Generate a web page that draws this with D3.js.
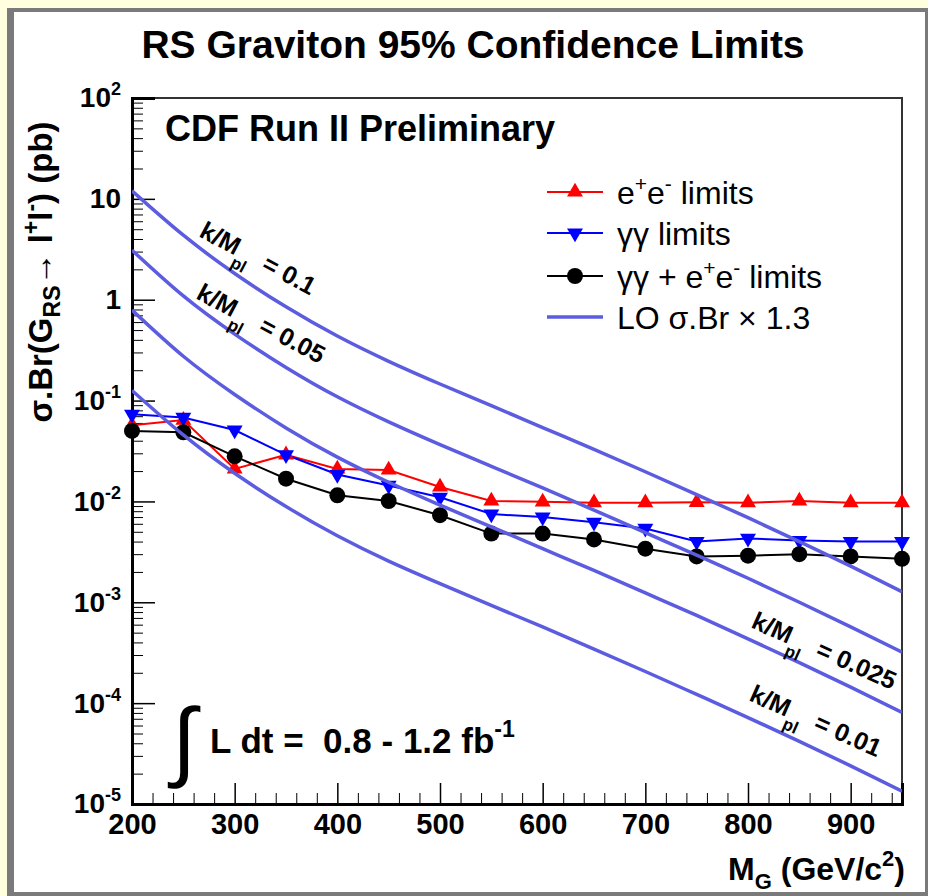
<!DOCTYPE html>
<html>
<head>
<meta charset="utf-8">
<script src="https://cdn.jsdelivr.net/npm/d3@7"></script>
<style>
  body { margin: 0; background: #ffffe0; }
  text { font-family: "Liberation Sans", Arial, sans-serif; }
</style>
</head>
<body>
<script>
// graviton masses (GeV/c^2)
const masses = [200, 250, 300, 350, 400, 450, 500, 550, 600, 650, 700, 750, 800, 850, 900, 950];

// 95% CL limits (pb)
const eeLimits   = [0.057, 0.064, 0.021, 0.029, 0.021, 0.0205, 0.0139, 0.0101, 0.0099, 0.0097, 0.0097, 0.0098, 0.0097, 0.0101, 0.0097, 0.0097];
const ggLimits   = [0.073, 0.068, 0.051, 0.029, 0.0185, 0.0144, 0.011, 0.0075, 0.0070, 0.0062, 0.0054, 0.0040, 0.0043, 0.0041, 0.0040, 0.0040];
const combLimits = [0.050, 0.0485, 0.028, 0.0168, 0.0115, 0.0101, 0.0073, 0.0048, 0.0048, 0.0042, 0.0034, 0.00285, 0.0029, 0.0030, 0.00285, 0.0027];

// LO sigma.Br x 1.3 curves, one per k/M_pl
const lo010  = [12.0, 4.36, 1.82, 0.85, 0.436, 0.245, 0.146, 0.089, 0.054, 0.0328, 0.0197, 0.0117, 0.0069, 0.0040, 0.00228, 0.00127];
const lo005  = [3.1, 1.09, 0.456, 0.213, 0.109, 0.0615, 0.0366, 0.0223, 0.0136, 0.0082, 0.0049, 0.00294, 0.00173, 0.0010, 0.00057, 0.00032];
const lo0025 = [0.79, 0.275, 0.115, 0.0536, 0.0275, 0.0155, 0.0092, 0.0056, 0.0034, 0.00207, 0.00124, 0.00074, 0.000434, 0.000252, 0.000144, 0.000081];
const lo001  = [0.126, 0.0456, 0.019, 0.0089, 0.00456, 0.00256, 0.00153, 0.00093, 0.00057, 0.000344, 0.000206, 0.000122, 0.000072, 0.0000418, 0.0000239, 0.0000134];

// axis ticks
const xMajorTicks = [200, 300, 400, 500, 600, 700, 800, 900];
const yDecades = [-5, -4, -3, -2, -1, 0, 1, 2];

const W = 928, H = 896;
const svg = d3.select("body").append("svg")
  .attr("width", W).attr("height", H);

// canvas background and border
svg.append("rect").attr("width", W).attr("height", H).attr("fill", "#ffffe0");
svg.append("rect").attr("x", 7).attr("y", 8).attr("width", W - 7).attr("height", H - 8).attr("fill", "#7a7a7a");
svg.append("rect").attr("x", 14).attr("y", 12).attr("width", 911).attr("height", 880).attr("fill", "#fff");

const x = d3.scaleLinear().domain([200, 950]).range([132, 902]);
const y = d3.scaleLog().domain([1e-5, 1e2]).range([804, 98]);

// title
svg.append("text")
  .attr("x", 473).attr("y", 58)
  .attr("text-anchor", "middle")
  .attr("font-size", 39).attr("font-weight", "bold")
  .text("RS Graviton 95% Confidence Limits");

// frame (top and right)
svg.append("path")
  .attr("d", `M${x(200)},${y(1e2)}H${x(950)}V${y(1e-5)}`)
  .attr("fill", "none").attr("stroke", "#333").attr("stroke-width", 2);

// x axis: minor and major ticks, drawn inward
const minorX = d3.range(200, 951, 20).filter(v => v % 100 !== 0);
svg.append("g")
  .attr("transform", `translate(0,${y(1e-5)})`)
  .call(d3.axisBottom(x).tickValues(minorX).tickSize(-11).tickFormat(""))
  .call(g => g.select(".domain").remove());

const xAxis = svg.append("g")
  .attr("transform", `translate(0,${y(1e-5)})`)
  .call(d3.axisBottom(x).tickValues(xMajorTicks).tickSize(-21).tickPadding(9).tickFormat(d3.format("d")));
xAxis.select(".domain").attr("stroke-width", 3);
xAxis.selectAll("text").attr("font-size", 29).attr("font-weight", "bold")
  .attr("font-family", "Liberation Sans, Arial, sans-serif").attr("fill", "#000");

// y axis: log minor ticks and decade ticks
const minorY = [];
yDecades.slice(0, -1).forEach(e => {
  for (let m = 2; m <= 9; m++) minorY.push(m * Math.pow(10, e));
});
svg.append("g")
  .attr("transform", `translate(${x(200)},0)`)
  .call(d3.axisLeft(y).tickValues(minorY).tickSize(-11).tickFormat(""))
  .call(g => g.select(".domain").remove());

const yAxis = svg.append("g")
  .attr("transform", `translate(${x(200)},0)`)
  .call(d3.axisLeft(y).tickValues(yDecades.map(e => Math.pow(10, e))).tickSize(-23).tickPadding(11).tickFormat(""));
yAxis.select(".domain").attr("stroke-width", 3);
yAxis.selectAll(".tick line").attr("stroke-width", 1.5);
xAxis.selectAll(".tick line").attr("stroke-width", 1.5);
yAxis.selectAll(".tick text")
  .attr("font-size", 28).attr("font-weight", "bold")
  .attr("font-family", "Liberation Sans, Arial, sans-serif").attr("fill", "#000")
  .each(function(d) {
    const e = Math.round(Math.log10(d));
    const t = d3.select(this);
    if (e === 0) { t.text("1"); return; }
    if (e === 1) { t.text("10"); return; }
    t.append("tspan").text("10");
    t.append("tspan").attr("dy", -12).attr("font-size", 18).text(e);
  });

// axis titles
const yt = svg.append("text")
  .attr("transform", "translate(52,272) rotate(-90)")
  .attr("text-anchor", "middle")
  .attr("font-size", 33).attr("font-weight", "bold");
yt.append("tspan").text("σ.Br(G");
yt.append("tspan").attr("dy", 8).attr("font-size", 23).text("RS");
yt.append("tspan").attr("dy", -8).text("→ l");
yt.append("tspan").attr("dy", -13).attr("font-size", 23).text("+");
yt.append("tspan").attr("dy", 13).text("l");
yt.append("tspan").attr("dy", -13).attr("font-size", 23).text("-");
yt.append("tspan").attr("dy", 13).text(") (pb)");

const xt = svg.append("text")
  .attr("x", 905).attr("y", 880)
  .attr("text-anchor", "end")
  .attr("font-size", 32).attr("font-weight", "bold");
xt.append("tspan").text("M");
xt.append("tspan").attr("dy", 9).attr("font-size", 22).text("G");
xt.append("tspan").attr("dy", -9).text(" (GeV/c");
xt.append("tspan").attr("dy", -14).attr("font-size", 22).text("2");
xt.append("tspan").attr("dy", 14).text(")");

// plot region clip (for lines only)
svg.append("clipPath").attr("id", "plotClip")
  .append("rect").attr("x", x(200)).attr("y", y(1e2))
  .attr("width", x(950) - x(200)).attr("height", y(1e-5) - y(1e2));

const plot = svg.append("g").attr("clip-path", "url(#plotClip)");
const markers = svg.append("g");

// limit series
const series = [
  { name: "ee", values: eeLimits, color: "#ff0000", marker: "up" },
  { name: "gg", values: ggLimits, color: "#0000ff", marker: "down" },
  { name: "comb", values: combLimits, color: "#000000", marker: "circle" }
];

const lineLin = d3.line().x(d => x(d[0])).y(d => y(d[1]));
const triUp = d3.symbol().type(d3.symbolTriangle).size(110);
const circ = d3.symbol().type(d3.symbolCircle).size(200);

function drawMarker(g, kind, color, cx, cy) {
  if (kind === "circle") {
    g.append("path").attr("d", circ()).attr("fill", color)
      .attr("transform", `translate(${cx},${cy})`);
  } else {
    g.append("path").attr("d", triUp()).attr("fill", color)
      .attr("transform", `translate(${cx},${cy}) rotate(${kind === "down" ? 180 : 0})`);
  }
}

series.forEach(s => {
  const pts = masses.map((m, i) => [m, s.values[i]]);
  plot.append("path").datum(pts)
    .attr("fill", "none").attr("stroke", s.color).attr("stroke-width", 2)
    .attr("d", lineLin);
  pts.forEach(p => drawMarker(markers, s.marker, s.color, x(p[0]), y(p[1])));
});

// theory curves
const theoryColor = "#5c5ce0";
const lineSmooth = d3.line().curve(d3.curveNatural).x(d => x(d[0])).y(d => y(d[1]));
const theory = svg.append("g").attr("clip-path", "url(#plotClip)");
[lo010, lo005, lo0025, lo001].forEach(vals => {
  theory.append("path").datum(masses.map((m, i) => [m, vals[i]]))
    .attr("fill", "none").attr("stroke", theoryColor).attr("stroke-width", 3.5)
    .attr("d", lineSmooth);
});

// curve labels
const curveLabels = [
  { text: "0.1", x: 198, y: 236, angle: 28 },
  { text: "0.05", x: 195, y: 298, angle: 28 },
  { text: "0.025", x: 750, y: 627, angle: 24 },
  { text: "0.01", x: 748, y: 700, angle: 24 }
];
curveLabels.forEach(l => {
  const t = svg.append("text")
    .attr("transform", `translate(${l.x},${l.y}) rotate(${l.angle})`)
    .attr("font-size", 25).attr("font-weight", "bold")
    .style("white-space", "pre");
  t.append("tspan").text("k/M");
  t.append("tspan").attr("dy", 12).attr("font-size", 17).text("pl");
  t.append("tspan").attr("dy", -12).text("  = " + l.text);
});

// CDF label
svg.append("text")
  .attr("x", 165).attr("y", 141)
  .attr("font-size", 36).attr("font-weight", "bold")
  .text("CDF Run II Preliminary");

// luminosity
svg.append("text")
  .attr("x", 172).attr("y", 770)
  .attr("font-size", 88).attr("font-family", "DejaVu Sans")
  .text("∫");
const lum = svg.append("text")
  .attr("x", 210).attr("y", 753)
  .attr("font-size", 35).attr("font-weight", "bold")
  .style("white-space", "pre");
lum.append("tspan").text("L dt =  0.8 - 1.2 fb");
lum.append("tspan").attr("dy", -16).attr("font-size", 23).text("-1");

// legend
const legend = svg.append("g");
const legendRows = [
  { y: 192, color: "#ff0000", marker: "up", label: [["e"], ["+", "sup"], ["e"], ["-", "sup"], [" limits"]] },
  { y: 233, color: "#0000ff", marker: "down", label: [["γγ limits"]] },
  { y: 276, color: "#000000", marker: "circle", label: [["γγ + e"], ["+", "sup"], ["e"], ["-", "sup"], [" limits"]] },
  { y: 317, color: theoryColor, marker: null, label: [["LO σ.Br × 1.3"]] }
];
legendRows.forEach(r => {
  legend.append("line")
    .attr("x1", 547).attr("x2", 603).attr("y1", r.y).attr("y2", r.y)
    .attr("stroke", r.color).attr("stroke-width", r.marker ? 2 : 3.5);
  if (r.marker) drawMarker(legend, r.marker, r.color, 575, r.y);
  const t = legend.append("text")
    .attr("x", 617).attr("y", r.y + 12)
    .attr("font-size", 32)
    .style("white-space", "pre");
  let up = false;
  r.label.forEach(([s, kind]) => {
    const sp = t.append("tspan").text(s);
    if (kind === "sup" && !up) { sp.attr("dy", -13).attr("font-size", 21); up = true; }
    else if (kind !== "sup" && up) { sp.attr("dy", 13); up = false; }
    else if (kind === "sup") sp.attr("font-size", 21);
  });
});
</script>
</body>
</html>
